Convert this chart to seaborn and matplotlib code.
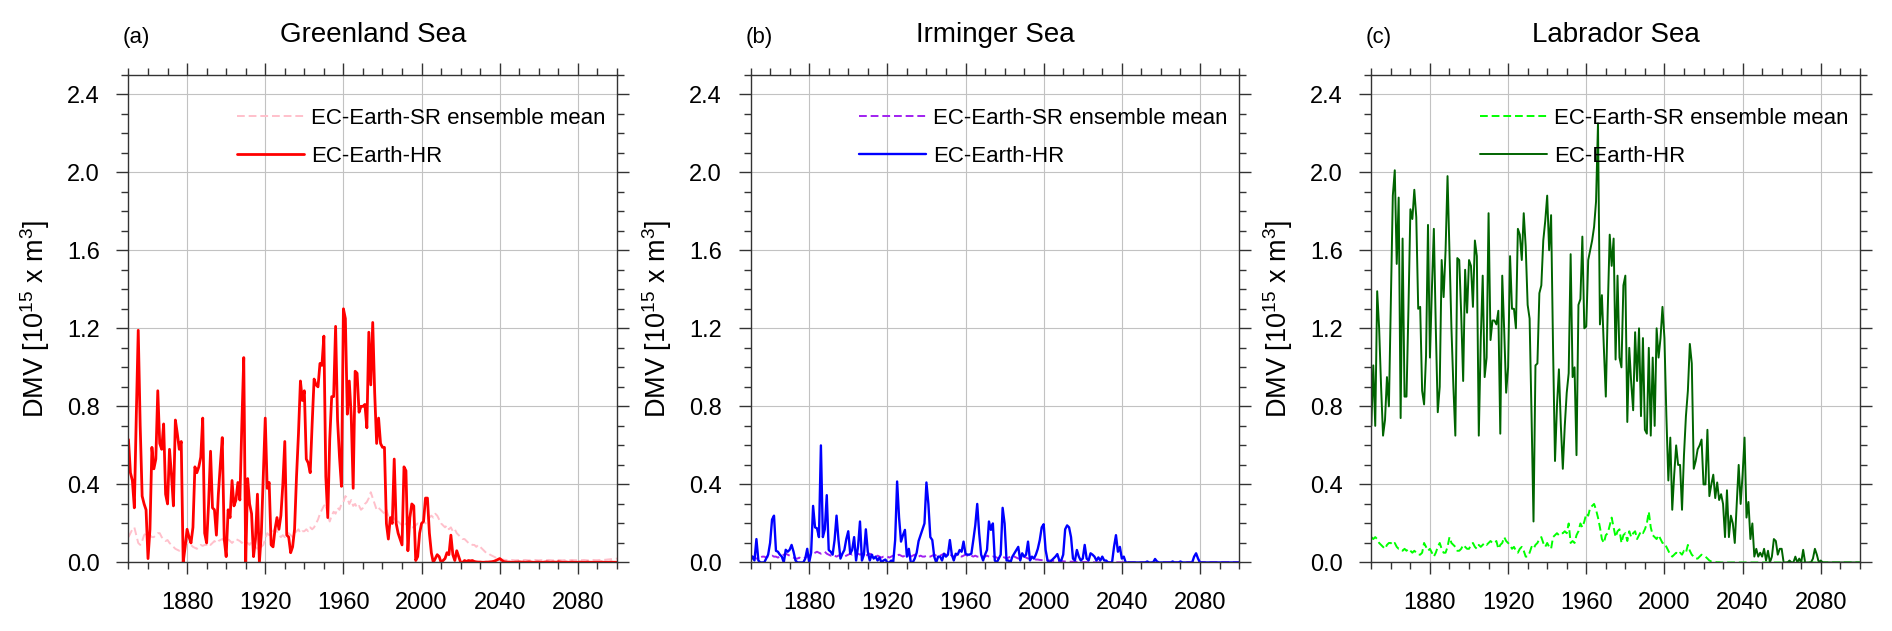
import matplotlib
matplotlib.use("Agg")
import matplotlib.pyplot as plt
from matplotlib.ticker import MultipleLocator, FormatStrFormatter
import seaborn as sns

# yearly deep mixed volume, 1850-2100
years = list(range(1850, 2101))

greenland_hr = [
    0.63, 0.46, 0.42, 0.28, 0.75, 1.19, 0.70, 0.34, 0.30, 0.27,
    0.02, 0.17, 0.59, 0.48, 0.53, 0.88, 0.61, 0.58, 0.71, 0.35,
    0.30, 0.58, 0.45, 0.29, 0.73, 0.66, 0.58, 0.62, 0.00, 0.08,
    0.17, 0.13, 0.10, 0.18, 0.49, 0.46, 0.49, 0.54, 0.74, 0.15,
    0.10, 0.30, 0.57, 0.28, 0.27, 0.14, 0.35, 0.50, 0.64, 0.12,
    0.03, 0.27, 0.23, 0.42, 0.29, 0.32, 0.41, 0.32, 0.70, 1.05,
    0.00, 0.43, 0.30, 0.25, 0.03, 0.12, 0.35, 0.00, 0.15, 0.45,
    0.74, 0.38, 0.41, 0.09, 0.08, 0.17, 0.23, 0.17, 0.24, 0.40,
    0.62, 0.14, 0.13, 0.05, 0.08, 0.17, 0.44, 0.66, 0.93, 0.83,
    0.88, 0.53, 0.51, 0.46, 0.71, 0.94, 0.91, 0.90, 1.02, 1.01,
    1.16, 0.44, 0.23, 0.63, 0.85, 0.85, 1.21, 0.73, 0.54, 0.39,
    1.30, 1.25, 0.76, 0.93, 0.75, 0.38, 0.98, 0.97, 0.77, 0.80,
    0.80, 0.81, 0.69, 1.18, 0.91, 1.23, 0.87, 0.61, 0.74, 0.61,
    0.59, 0.59, 0.20, 0.12, 0.23, 0.20, 0.53, 0.20, 0.15, 0.12,
    0.09, 0.49, 0.47, 0.06, 0.23, 0.30, 0.29, 0.01, 0.03, 0.15,
    0.20, 0.21, 0.33, 0.33, 0.15, 0.05, 0.00, 0.02, 0.04, 0.03,
    0.00, 0.01, 0.02, 0.05, 0.04, 0.14, 0.04, 0.01, 0.06, 0.03,
    0.00, 0.00, 0.01, 0.005, 0.01, 0.008, 0.01, 0.005, 0.003, 0.002,
    0.002, 0.001, 0.001, 0.002, 0.002, 0.003, 0.004, 0.006, 0.010, 0.015,
    0.020, 0.012, 0.005, 0.003, 0.002, 0.002, 0.001, 0.001, 0.002, 0.002,
    0.003, 0.002, 0.002, 0.001, 0.002, 0.003, 0.002, 0.001, 0.001, 0.002,
    0.002, 0.001, 0.001, 0.002, 0.003, 0.002, 0.001, 0.002, 0.002, 0.001,
    0.004, 0.002, 0.001, 0.001, 0.002, 0.001, 0.001, 0.002, 0.001, 0.001,
    0.001, 0.002, 0.001, 0.001, 0.001, 0.002, 0.001, 0.001, 0.001, 0.001,
    0.001, 0.001, 0.002, 0.001, 0.001, 0.001, 0.001, 0.002, 0.001, 0.001,
    0.001,
]

greenland_sr = [
    0.13, 0.15, 0.17, 0.18, 0.14, 0.10, 0.09, 0.11, 0.14, 0.15,
    0.15, 0.14, 0.13, 0.13, 0.14, 0.15, 0.15, 0.13, 0.12, 0.11,
    0.115, 0.10, 0.09, 0.08, 0.07, 0.065, 0.06, 0.07, 0.08, 0.09,
    0.10, 0.10, 0.09, 0.08, 0.075, 0.07, 0.08, 0.09, 0.085, 0.09,
    0.09, 0.10, 0.09, 0.10, 0.11, 0.10, 0.11, 0.115, 0.12, 0.11,
    0.115, 0.12, 0.11, 0.10, 0.11, 0.12, 0.115, 0.11, 0.10, 0.11,
    0.10, 0.10, 0.09, 0.11, 0.10, 0.08, 0.07, 0.07, 0.08, 0.09,
    0.12, 0.15, 0.14, 0.15, 0.16, 0.17, 0.16, 0.14, 0.13, 0.14,
    0.13, 0.14, 0.15, 0.14, 0.13, 0.15, 0.16, 0.17, 0.15, 0.16,
    0.16, 0.17, 0.16, 0.18, 0.17, 0.18, 0.20, 0.22, 0.25, 0.27,
    0.29, 0.30, 0.24, 0.21, 0.24, 0.26, 0.25, 0.28, 0.27, 0.30,
    0.31, 0.34, 0.33, 0.30, 0.32, 0.29, 0.30, 0.28, 0.29, 0.27,
    0.28, 0.30, 0.31, 0.33, 0.36, 0.33, 0.30, 0.27, 0.28, 0.27,
    0.26, 0.25, 0.27, 0.24, 0.23, 0.24, 0.22, 0.23, 0.21, 0.20,
    0.19, 0.18, 0.20, 0.19, 0.17, 0.18, 0.18, 0.19, 0.20, 0.19,
    0.20, 0.21, 0.20, 0.22, 0.23, 0.24, 0.23, 0.25, 0.24, 0.22,
    0.20, 0.19, 0.18, 0.19, 0.17, 0.18, 0.16, 0.17, 0.15, 0.14,
    0.13, 0.12, 0.12, 0.11, 0.10, 0.10, 0.09, 0.09, 0.08, 0.09,
    0.08, 0.07, 0.06, 0.05, 0.05, 0.04, 0.035, 0.03, 0.025, 0.02,
    0.015, 0.015, 0.014, 0.013, 0.012, 0.012, 0.013, 0.012, 0.011, 0.012,
    0.012, 0.011, 0.012, 0.013, 0.012, 0.011, 0.012, 0.012, 0.013, 0.012,
    0.011, 0.012, 0.012, 0.011, 0.012, 0.013, 0.012, 0.011, 0.012, 0.012,
    0.013, 0.012, 0.011, 0.012, 0.012, 0.011, 0.012, 0.013, 0.012, 0.012,
    0.011, 0.012, 0.012, 0.013, 0.012, 0.011, 0.012, 0.012, 0.013, 0.012,
    0.012, 0.013, 0.012, 0.013, 0.014, 0.015, 0.016, 0.017, 0.018, 0.019,
    0.020,
]

irminger_hr = [
    0.01, 0.03, 0.01, 0.12, 0.01, 0.00, 0.00, 0.00, 0.02, 0.04,
    0.10, 0.22, 0.24, 0.06, 0.055, 0.04, 0.03, 0.00, 0.065, 0.055,
    0.065, 0.09, 0.055, 0.01, 0.00, 0.00, 0.00, 0.00, 0.02, 0.07,
    0.00, 0.05, 0.29, 0.18, 0.175, 0.13, 0.60, 0.13, 0.17, 0.345,
    0.064, 0.055, 0.04, 0.115, 0.24, 0.115, 0.02, 0.045, 0.064, 0.12,
    0.16, 0.045, 0.064, 0.13, 0.01, 0.08, 0.21, 0.01, 0.04, 0.17,
    0.055, 0.01, 0.04, 0.02, 0.03, 0.01, 0.025, 0.00, 0.01, 0.015,
    0.00, 0.00, 0.01, 0.00, 0.115, 0.415, 0.23, 0.107, 0.14, 0.167,
    0.03, 0.07, 0.00, 0.00, 0.02, 0.05, 0.11, 0.14, 0.17, 0.20,
    0.41, 0.30, 0.13, 0.115, 0.03, 0.00, 0.03, 0.03, 0.01, 0.045,
    0.03, 0.04, 0.115, 0.04, 0.01, 0.045, 0.04, 0.064, 0.055, 0.107,
    0.045, 0.04, 0.04, 0.045, 0.115, 0.19, 0.30, 0.15, 0.04, 0.01,
    0.04, 0.064, 0.21, 0.167, 0.20, 0.01, 0.00, 0.02, 0.04, 0.28,
    0.20, 0.01, 0.01, 0.00, 0.03, 0.047, 0.064, 0.08, 0.01, 0.047,
    0.03, 0.04, 0.107, 0.01, 0.03, 0.02, 0.04, 0.07, 0.115, 0.18,
    0.196, 0.064, 0.01, 0.00, 0.01, 0.02, 0.03, 0.043, 0.01, 0.01,
    0.04, 0.17, 0.19, 0.18, 0.13, 0.02, 0.01, 0.064, 0.03, 0.01,
    0.02, 0.09, 0.02, 0.01, 0.047, 0.04, 0.03, 0.01, 0.026, 0.01,
    0.03, 0.01, 0.01, 0.00, 0.00, 0.00, 0.08, 0.14, 0.055, 0.08,
    0.02, 0.03, 0.00, 0.00, 0.00, 0.00, 0.00, 0.00, 0.00, 0.00,
    0.00, 0.00, 0.00, 0.005, 0.00, 0.00, 0.00, 0.018, 0.005, 0.00,
    0.00, 0.00, 0.00, 0.00, 0.00, 0.00, 0.005, 0.00, 0.00, 0.00,
    0.005, 0.00, 0.00, 0.00, 0.00, 0.00, 0.00, 0.03, 0.047, 0.02,
    0.00, 0.00, 0.00, 0.00, 0.00, 0.00, 0.00, 0.00, 0.00, 0.00,
    0.00, 0.00, 0.00, 0.00, 0.00, 0.00, 0.00, 0.00, 0.00, 0.00,
    0.00,
]

irminger_sr = [
    0.035, 0.03, 0.025, 0.02, 0.02, 0.025, 0.03, 0.03, 0.025, 0.03,
    0.03, 0.035, 0.03, 0.03, 0.025, 0.03, 0.035, 0.04, 0.045, 0.04,
    0.035, 0.03, 0.025, 0.02, 0.02, 0.025, 0.02, 0.02, 0.025, 0.03,
    0.035, 0.04, 0.045, 0.05, 0.055, 0.05, 0.045, 0.05, 0.055, 0.045,
    0.04, 0.035, 0.04, 0.035, 0.03, 0.035, 0.04, 0.035, 0.03, 0.035,
    0.04, 0.045, 0.04, 0.045, 0.05, 0.045, 0.04, 0.045, 0.04, 0.035,
    0.04, 0.045, 0.04, 0.035, 0.03, 0.035, 0.03, 0.025, 0.03, 0.03,
    0.03, 0.025, 0.03, 0.035, 0.03, 0.035, 0.04, 0.035, 0.03, 0.035,
    0.04, 0.035, 0.03, 0.035, 0.04, 0.035, 0.03, 0.035, 0.03, 0.03,
    0.035, 0.03, 0.03, 0.035, 0.04, 0.035, 0.03, 0.035, 0.04, 0.045,
    0.04, 0.035, 0.04, 0.035, 0.03, 0.035, 0.04, 0.035, 0.03, 0.035,
    0.04, 0.035, 0.04, 0.035, 0.03, 0.035, 0.03, 0.03, 0.035, 0.03,
    0.03, 0.035, 0.03, 0.025, 0.03, 0.03, 0.025, 0.02, 0.025, 0.03,
    0.025, 0.02, 0.025, 0.03, 0.035, 0.03, 0.025, 0.02, 0.02, 0.025,
    0.03, 0.025, 0.02, 0.02, 0.015, 0.02, 0.015, 0.015, 0.013, 0.012,
    0.012, 0.01, 0.011, 0.01, 0.009, 0.008, 0.008, 0.007, 0.007, 0.006,
    0.006, 0.005, 0.005, 0.004, 0.004, 0.004, 0.003, 0.003, 0.003, 0.002,
    0.002, 0.002, 0.002, 0.001, 0.002, 0.001, 0.001, 0.001, 0.001, 0.001,
    0.001, 0.001, 0.001, 0.001, 0.001, 0.001, 0.001, 0.001, 0.001, 0.001,
    0.001, 0.001, 0.001, 0.001, 0.001, 0.001, 0.001, 0.001, 0.001, 0.001,
    0.001, 0.001, 0.001, 0.001, 0.001, 0.001, 0.001, 0.001, 0.001, 0.001,
    0.001, 0.001, 0.001, 0.001, 0.001, 0.001, 0.001, 0.001, 0.001, 0.001,
    0.001, 0.001, 0.001, 0.001, 0.001, 0.001, 0.001, 0.001, 0.001, 0.001,
    0.001, 0.001, 0.001, 0.001, 0.001, 0.001, 0.001, 0.001, 0.001, 0.001,
    0.001, 0.001, 0.001, 0.001, 0.001, 0.001, 0.001, 0.001, 0.001, 0.001,
    0.001,
]

labrador_hr = [
    0.70, 1.01, 0.70, 1.39, 1.20, 0.90, 0.65, 0.73, 0.95, 0.80,
    1.35, 1.88, 2.01, 1.53, 1.87, 0.74, 1.66, 0.85, 0.85, 1.30,
    1.81, 1.76, 1.91, 1.77, 1.30, 1.31, 0.88, 0.81, 1.06, 1.73,
    1.05, 1.40, 1.71, 1.20, 0.77, 0.90, 1.55, 1.36, 1.60, 1.98,
    1.60, 1.20, 0.90, 0.65, 1.56, 1.55, 1.27, 0.93, 1.50, 1.28,
    1.55, 1.52, 1.31, 1.65, 1.57, 0.65, 1.14, 1.47, 0.95, 1.05,
    1.79, 1.14, 1.24, 1.24, 1.22, 1.29, 0.66, 1.47, 1.19, 0.87,
    1.00, 1.57, 1.30, 1.30, 1.20, 1.71, 1.68, 1.55, 1.79, 1.62,
    1.32, 1.25, 0.75, 0.21, 1.01, 1.02, 1.38, 1.42, 1.65, 1.75,
    1.88, 1.60, 1.78, 1.10, 0.52, 0.80, 0.99, 0.70, 0.48, 0.70,
    0.87, 0.97, 1.58, 0.95, 1.00, 0.55, 1.32, 1.35, 1.67, 1.20,
    1.21, 1.55, 1.60, 1.65, 1.72, 1.85, 2.25, 1.22, 1.37, 1.10,
    0.85, 1.30, 1.68, 1.52, 1.66, 1.04, 1.47, 1.05, 1.00, 1.42,
    1.47, 0.72, 1.10, 0.92, 0.78, 1.18, 0.93, 1.20, 0.75, 1.15,
    0.68, 0.66, 1.10, 0.65, 1.05, 0.70, 1.20, 1.05, 1.15, 1.31,
    1.15, 0.75, 0.42, 0.64, 0.27, 0.45, 0.60, 0.50, 0.50, 0.27,
    0.55, 0.75, 0.88, 1.12, 1.02, 0.48, 0.52, 0.58, 0.60, 0.63,
    0.40, 0.40, 0.68, 0.34, 0.40, 0.45, 0.33, 0.41, 0.32, 0.35,
    0.30, 0.13, 0.37, 0.13, 0.24, 0.20, 0.10, 0.30, 0.50, 0.30,
    0.45, 0.64, 0.23, 0.31, 0.12, 0.20, 0.03, 0.07, 0.03, 0.05,
    0.03, 0.07, 0.01, 0.06, 0.00, 0.03, 0.12, 0.11, 0.04, 0.07,
    0.07, 0.00, 0.00, 0.00, 0.01, 0.00, 0.00, 0.03, 0.00, 0.02,
    0.00, 0.065, 0.00, 0.00, 0.00, 0.00, 0.02, 0.07, 0.04, 0.00,
    0.01, 0.00, 0.00, 0.00, 0.00, 0.00, 0.00, 0.00, 0.00, 0.00,
    0.00, 0.00, 0.00, 0.00, 0.00, 0.00, 0.00, 0.00, 0.00, 0.00,
    0.00,
]

labrador_sr = [
    0.13, 0.12, 0.13, 0.12, 0.10, 0.09, 0.08, 0.07, 0.09, 0.10,
    0.10, 0.09, 0.10, 0.08, 0.07, 0.07, 0.06, 0.07, 0.06, 0.07,
    0.06, 0.05, 0.06, 0.05, 0.04, 0.04, 0.05, 0.10, 0.08, 0.06,
    0.07, 0.05, 0.03, 0.05, 0.08, 0.10, 0.07, 0.05, 0.05, 0.08,
    0.13, 0.10, 0.09, 0.08, 0.06, 0.06, 0.07, 0.09, 0.08, 0.07,
    0.07, 0.09, 0.10, 0.08, 0.07, 0.09, 0.08, 0.09, 0.10, 0.09,
    0.10, 0.11, 0.10, 0.10, 0.11, 0.07, 0.09, 0.10, 0.13, 0.11,
    0.10, 0.09, 0.07, 0.08, 0.06, 0.05, 0.07, 0.08, 0.06, 0.03,
    0.03, 0.05, 0.08, 0.07, 0.09, 0.10, 0.12, 0.13, 0.10, 0.08,
    0.10, 0.08, 0.07, 0.13, 0.14, 0.15, 0.14, 0.15, 0.15, 0.16,
    0.15, 0.20, 0.10, 0.11, 0.10, 0.14, 0.16, 0.20, 0.18, 0.21,
    0.25, 0.24, 0.28, 0.29, 0.30, 0.27, 0.23, 0.18, 0.12, 0.10,
    0.14, 0.15, 0.19, 0.23, 0.18, 0.13, 0.16, 0.17, 0.10, 0.14,
    0.15, 0.11, 0.16, 0.13, 0.15, 0.16, 0.12, 0.14, 0.16, 0.15,
    0.17, 0.20, 0.26, 0.18, 0.14, 0.13, 0.12, 0.14, 0.12, 0.10,
    0.10, 0.08, 0.06, 0.04, 0.03, 0.04, 0.05, 0.04, 0.05, 0.04,
    0.06, 0.05, 0.09, 0.06, 0.04, 0.03, 0.02, 0.02, 0.03, 0.04,
    0.035, 0.03, 0.02, 0.01, 0.005, 0.003, 0.002, 0.001, 0.001, 0.00,
    0.00, 0.00, 0.00, 0.00, 0.00, 0.00, 0.00, 0.00, 0.00, 0.00,
    0.00, 0.00, 0.00, 0.00, 0.00, 0.00, 0.00, 0.00, 0.00, 0.00,
    0.00, 0.00, 0.00, 0.00, 0.00, 0.00, 0.00, 0.00, 0.00, 0.00,
    0.00, 0.00, 0.00, 0.00, 0.00, 0.00, 0.00, 0.00, 0.00, 0.00,
    0.00, 0.00, 0.00, 0.00, 0.00, 0.00, 0.00, 0.00, 0.00, 0.00,
    0.00, 0.00, 0.00, 0.00, 0.00, 0.00, 0.00, 0.00, 0.00, 0.00,
    0.00, 0.00, 0.00, 0.00, 0.00, 0.00, 0.00, 0.00, 0.00, 0.00,
    0.00,
]

panel_letters = ['(a)', '(b)', '(c)']
panel_titles = ['Greenland Sea', 'Irminger Sea', 'Labrador Sea']
hr_series = [greenland_hr, irminger_hr, labrador_hr]
sr_series = [greenland_sr, irminger_sr, labrador_sr]
hr_colors = ['#ff0000', '#0000ff', '#006400']
sr_colors = ['#ffc0cb', '#a020f0', '#00ff00']
hr_widths = [2.0, 1.7, 1.4]

sns.set_style("ticks")
plt.rcParams['font.family'] = ['Liberation Sans', 'DejaVu Sans']
plt.rcParams['mathtext.fontset'] = 'custom'
plt.rcParams['mathtext.rm'] = 'Liberation Sans'
plt.rcParams['mathtext.it'] = 'Liberation Sans'
plt.rcParams['text.color'] = 'black'
plt.rcParams['axes.labelcolor'] = 'black'

fig = plt.figure(figsize=(18.92, 6.31), dpi=100)
lefts = [0.0679, 0.3967, 0.7248]
edge = '#333333'

for i in range(3):
    ax = fig.add_axes([lefts[i], 0.1086, 0.2582, 0.7731])

    sns.lineplot(x=years, y=sr_series[i], ax=ax, color=sr_colors[i],
                 lw=1.4, linestyle=(0, (4, 2)),
                 label='EC-Earth-SR ensemble mean')
    sns.lineplot(x=years, y=hr_series[i], ax=ax, color=hr_colors[i],
                 lw=hr_widths[i], label='EC-Earth-HR')

    ax.set_xlim(1850, 2100)
    ax.set_ylim(0, 2.5)
    ax.xaxis.set_major_locator(MultipleLocator(40))
    ax.xaxis.set_minor_locator(MultipleLocator(10))
    ax.yaxis.set_major_locator(MultipleLocator(0.4))
    ax.yaxis.set_minor_locator(MultipleLocator(0.1))
    ax.yaxis.set_major_formatter(FormatStrFormatter('%.1f'))

    ax.grid(True, which='major', color='#c2c2c2', lw=0.8)
    ax.set_axisbelow(True)

    for side in ['left', 'right', 'top', 'bottom']:
        ax.spines[side].set_visible(True)
        ax.spines[side].set_color(edge)
        ax.spines[side].set_linewidth(1.0)

    ax.tick_params(which='both', direction='out', top=True, right=True,
                   color=edge, width=1.0, labelsize=17, labelcolor='black')
    ax.tick_params(which='major', length=8.6)
    ax.tick_params(which='minor', length=4.7)
    ax.tick_params(axis='x', which='major', pad=13)
    ax.tick_params(axis='y', which='major', pad=12)

    ax.set_xlabel('')
    ax.set_ylabel('DMV [10$^{15}$ x m$^3$]', fontsize=19.5)
    ax.yaxis.set_label_coords(-0.157, 0.5)

    ax.set_title(panel_titles[i], fontsize=20, y=1.0666, pad=0, va='baseline',
                 color='black')
    ax.text(-0.011, 1.0756, panel_letters[i], transform=ax.transAxes,
            fontsize=16, ha='left', va='center', color='black')

    leg = ax.legend(loc='upper left', bbox_to_anchor=(0.223, 0.932),
                    frameon=False, fontsize=16, handlelength=3.0,
                    handletextpad=0.33, labelspacing=0.77, borderpad=0,
                    borderaxespad=0)
    for t in leg.get_texts():
        t.set_color('black')

fig.savefig('out.png', dpi=100)
